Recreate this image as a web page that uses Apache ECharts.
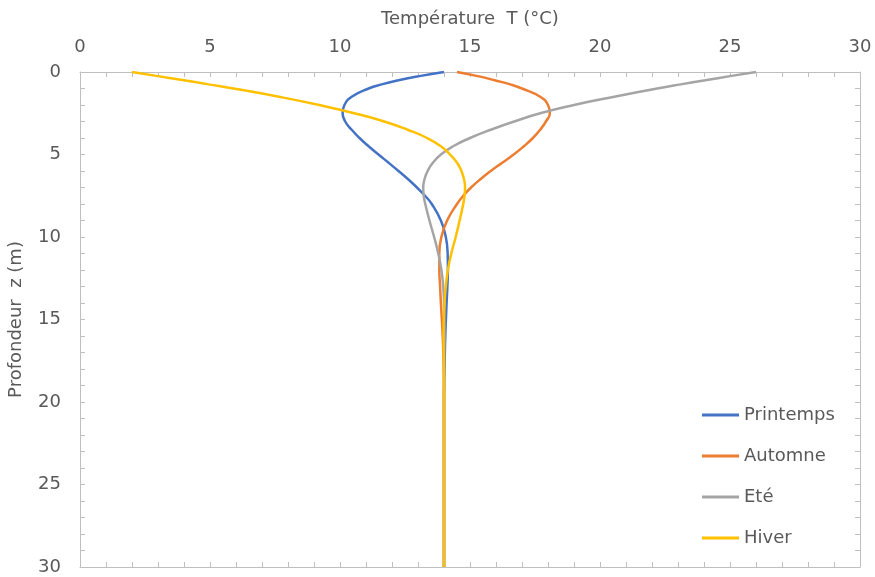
<!DOCTYPE html>
<html>
<head>
<meta charset="utf-8">
<script src="https://cdn.jsdelivr.net/npm/echarts@6/dist/echarts.min.js"></script>
<style>
html,body{margin:0;padding:0;background:#fff;}
#chart{width:875px;height:577px;}
</style>
</head>
<body>
<div id="chart"></div>
<script>
// Depth values (m)
const depths = [0, 0.25, 0.5, 0.75, 1, 1.5, 2, 2.5, 3, 3.5, 4, 4.5, 5, 5.5, 6, 6.5, 7, 7.5, 8, 9, 10, 11, 12, 13, 14, 16, 18, 20, 22, 24, 26, 28, 30];
// Temperatures (°C) per season at each depth
const printemps = [14.0, 13.05, 12.25, 11.6, 11.1, 10.45, 10.17, 10.1, 10.2, 10.45, 10.75, 11.1, 11.48, 11.87, 12.25, 12.62, 12.96, 13.27, 13.53, 13.88, 14.07, 14.14, 14.15, 14.13, 14.1, 14.05, 14.02, 14.0, 14.0, 14.0, 14.0, 14.0, 14.0];
const automne   = [14.5, 15.3, 15.95, 16.55, 17.0, 17.7, 18.0, 18.07, 17.92, 17.7, 17.42, 17.07, 16.68, 16.24, 15.8, 15.4, 15.04, 14.74, 14.5, 14.12, 13.9, 13.82, 13.82, 13.85, 13.88, 13.95, 13.99, 14.0, 14.0, 14.0, 14.0, 14.0, 14.0];
const ete       = [26.0, 25.0, 24.05, 23.1, 22.2, 20.55, 19.0, 17.7, 16.7, 15.8, 15.0, 14.35, 13.88, 13.57, 13.37, 13.25, 13.2, 13.22, 13.28, 13.44, 13.62, 13.78, 13.9, 13.97, 14.0, 14.02, 14.0, 14.0, 14.0, 14.0, 14.0, 14.0, 14.0];
const hiver     = [2.0, 3.0, 4.0, 4.95, 5.9, 7.65, 9.2, 10.55, 11.7, 12.6, 13.35, 13.88, 14.23, 14.5, 14.67, 14.77, 14.81, 14.79, 14.74, 14.6, 14.45, 14.28, 14.15, 14.07, 14.02, 13.98, 14.0, 14.0, 14.0, 14.0, 14.0, 14.0, 14.0];
const seriesNames = ['Printemps', 'Automne', 'Eté', 'Hiver'];
const seriesColors = ['#4472C4', '#ED7D31', '#A5A5A5', '#FFC000'];
const xName = 'Température  T (°C)';
const yName = 'Profondeur  z (m)';

const allSeries = [printemps, automne, ete, hiver];
const FONT = 'DejaVu Sans';
const TXT = '#595959';
const AX = '#BFBFBF';

function axisCommon(extra) {
  return Object.assign({
    type: 'value', min: 0, max: 30, interval: 5,
    axisLine: { show: true, onZero: false, lineStyle: { color: AX, width: 1 } },
    axisTick: { show: true, inside: true, length: 5, lineStyle: { color: AX } },
    minorTick: { show: true, splitNumber: 5, length: 5, lineStyle: { color: AX } },
    splitLine: { show: false },
    minorSplitLine: { show: false },
    axisLabel: { show: true, color: TXT, fontFamily: FONT, fontSize: 18 }
  }, extra);
}

const chart = echarts.init(document.getElementById('chart'), null, { renderer: 'canvas' });
chart.setOption({
  animation: false,
  backgroundColor: '#ffffff',
  grid: { left: 80, right: 15, top: 72, bottom: 10, containLabel: false, outerBoundsMode: 'none' },
  legend: {
    orient: 'vertical', left: 697, top: 401,
    icon: 'rect',
    itemWidth: 37, itemHeight: 3, itemGap: 23,
    textStyle: { color: TXT, fontFamily: FONT, fontSize: 18 },
    data: seriesNames
  },
  xAxis: [
    axisCommon({
      position: 'top', name: xName, nameLocation: 'middle', nameGap: 44,
      nameTextStyle: { color: TXT, fontFamily: FONT, fontSize: 18 },
      axisLabel: { show: true, color: TXT, fontFamily: FONT, fontSize: 18, margin: 16 }
    }),
    axisCommon({ position: 'bottom', axisLabel: { show: false } })
  ],
  yAxis: [
    axisCommon({
      position: 'left', inverse: true, name: yName, nameLocation: 'middle', nameGap: 55,
      nameTextStyle: { color: TXT, fontFamily: FONT, fontSize: 18 },
      axisLabel: { show: true, color: TXT, fontFamily: FONT, fontSize: 18, margin: 19 }
    }),
    axisCommon({ position: 'right', inverse: true, axisLabel: { show: false } })
  ],
  series: allSeries.map((vals, i) => ({
    name: seriesNames[i],
    type: 'line',
    xAxisIndex: 0, yAxisIndex: 0,
    data: depths.map((z, k) => [vals[k], z]),
    smooth: 0.5,
    showSymbol: false,
    symbol: 'none',
    lineStyle: { color: seriesColors[i], width: 2.5 },
    itemStyle: { color: seriesColors[i] },
    z: 2 + i
  }))
});
</script>
</body>
</html>
